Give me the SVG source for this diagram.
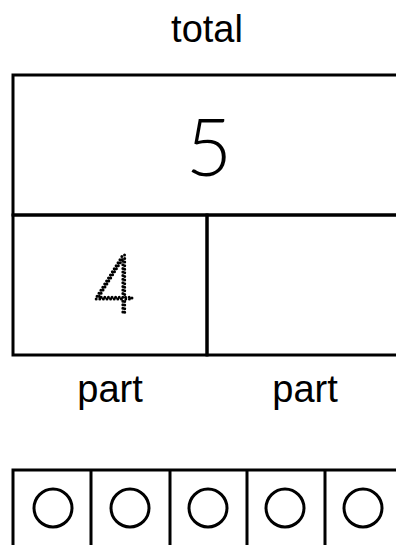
<svg xmlns="http://www.w3.org/2000/svg" width="396" height="545" viewBox="0 0 396 545">
<style>
.line{stroke:#000;stroke-width:3;fill:none}
.lbl{font-family:"Liberation Sans",Arial,sans-serif;font-size:38px;fill:#000;text-anchor:middle}
.num{font-family:"Lato","Open Sans",sans-serif;font-weight:300;font-size:80px;fill:#000;text-anchor:middle}
.dot{font-family:"Inter","DejaVu Sans",sans-serif;font-weight:100;font-size:80px;fill:none;stroke:#000;stroke-width:3;stroke-linecap:round;stroke-dasharray:0 3.6;text-anchor:middle}
</style>
<rect width="396" height="545" fill="#fff"/>
<g id="total-label"><text class="lbl" x="207" y="42">total</text></g>
<g id="total-box"><rect class="line" x="13" y="75" width="400" height="140"/><text class="num" x="209" y="176">5</text></g>
<g id="part1-box"><rect class="line" x="13" y="215" width="194" height="140"/><text class="dot" x="114" y="313">4</text></g>
<g id="part2-box"><rect class="line" x="207" y="215" width="206" height="140"/></g>
<g id="part-labels"><text class="lbl" x="110" y="402">part</text><text class="lbl" x="305" y="402">part</text></g>
<g id="frame">
<path class="line" d="M13,560 V470 H410 M91,470 V560 M170,470 V560 M247,470 V560 M325,470 V560"/>
<circle class="line" cx="53" cy="508" r="19"/>
<circle class="line" cx="130" cy="508" r="19"/>
<circle class="line" cx="208" cy="508" r="19"/>
<circle class="line" cx="285" cy="508" r="19"/>
<circle class="line" cx="363" cy="508" r="19"/>
</g>
<g id="connectors"/>
</svg>
